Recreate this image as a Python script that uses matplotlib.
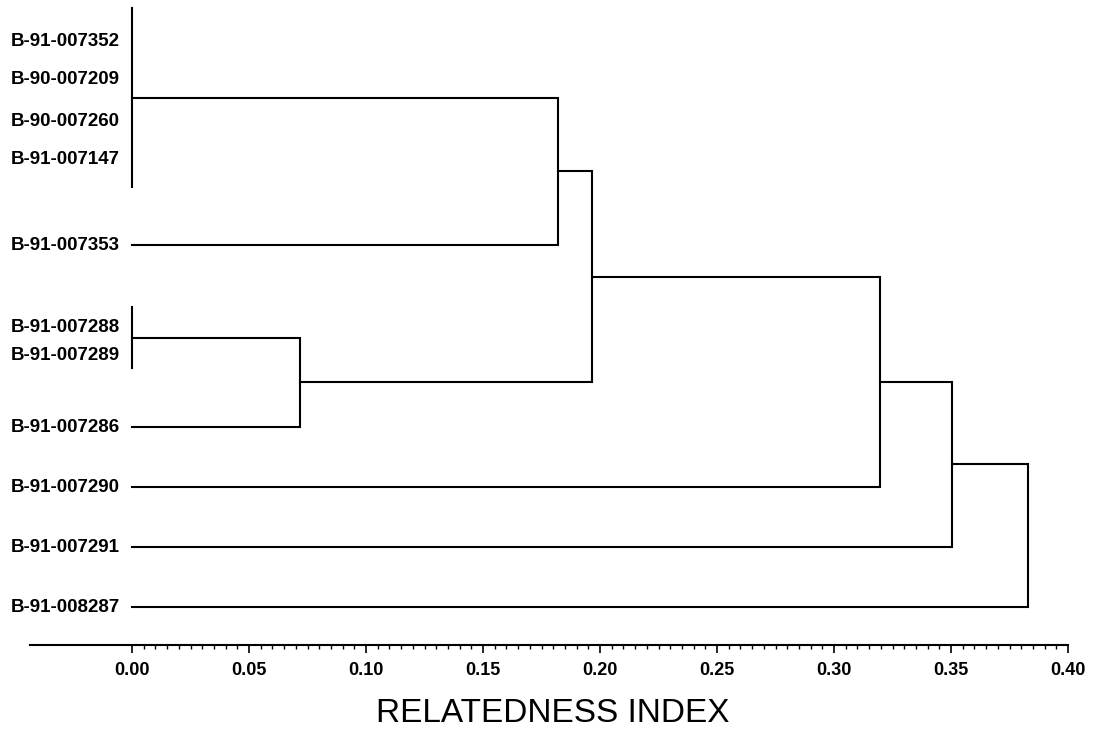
import numpy as np
import matplotlib
matplotlib.use('Agg')
import matplotlib.pyplot as plt
from matplotlib.ticker import FixedLocator

plt.rcParams['font.family'] = ['Liberation Sans', 'DejaVu Sans']

# leaf labels, top to bottom, and their row positions
labels = ['B-91-007352', 'B-90-007209', 'B-90-007260', 'B-91-007147',
          'B-91-007353', 'B-91-007288', 'B-91-007289', 'B-91-007286',
          'B-91-007290', 'B-91-007291', 'B-91-008287']
label_y = [42, 79, 122, 159, 245, 328, 355, 427, 487, 547, 607]

# identical isolates (relatedness 0) joined by a vertical bar
zero_groups = [[0, 1, 2, 3], [5, 6]]
zero_span = [(8, 187), (307, 368)]

# merges: (child a, child b, relatedness index)
merges = [
    ('g0', 4, 0.182),
    ('g1', 7, 0.0718),
    ('m0', 'm1', 0.1966),
    ('m2', 8, 0.3197),
    ('m3', 9, 0.3504),
    ('m4', 10, 0.3829),
]

fig = plt.figure(figsize=(10.93, 7.30), dpi=100)
ax = fig.add_axes([0, 0, 1, 1])
ax.set_xlim(-132 / 2340, (1093 - 132) / 2340)
ax.set_ylim(730, 0)

node_y = {i: y for i, y in enumerate(label_y)}
node_h = {i: 0.0 for i in range(len(labels))}

for k, (grp, (y0, y1)) in enumerate(zip(zero_groups, zero_span)):
    ax.plot([0, 0], [y0, y1], color='black', lw=1.5)
    node_y['g%d' % k] = (y0 + y1) / 2
    node_h['g%d' % k] = 0.0

for k, (a, b, h) in enumerate(merges):
    ya, yb = node_y[a], node_y[b]
    ax.plot([node_h[a], h, h, node_h[b]], [ya, ya, yb, yb],
            color='black', lw=1.5, solid_joinstyle='miter')
    node_y['m%d' % k] = (ya + yb) / 2
    node_h['m%d' % k] = h

for lab, y in zip(labels, label_y):
    ax.text(-12 / 2340, y, lab, ha='right', va='center',
            fontsize=13.5, fontweight='bold')

# axis
for s in ['left', 'right', 'top']:
    ax.spines[s].set_visible(False)
ax.spines['bottom'].set_position(('data', 645))
ax.spines['bottom'].set_bounds(-102 / 2340, 0.40)
ax.spines['bottom'].set_linewidth(1.5)
ax.yaxis.set_visible(False)

ax.xaxis.set_major_locator(FixedLocator(np.arange(0, 0.401, 0.05)))
ax.xaxis.set_minor_locator(FixedLocator(np.arange(0, 0.401, 0.005)))
ax.set_xticklabels(['%.2f' % v for v in np.arange(0, 0.401, 0.05)],
                   fontsize=13, fontweight='bold')
ax.tick_params(axis='x', which='major', direction='out', length=6, width=1.2, pad=6)
ax.tick_params(axis='x', which='minor', direction='out', length=3, width=1.0)

fig.text(553 / 1093, 1 - 713 / 730, 'RELATEDNESS INDEX',
         ha='center', va='center', fontsize=24)

fig.savefig('out.png', dpi=100)
